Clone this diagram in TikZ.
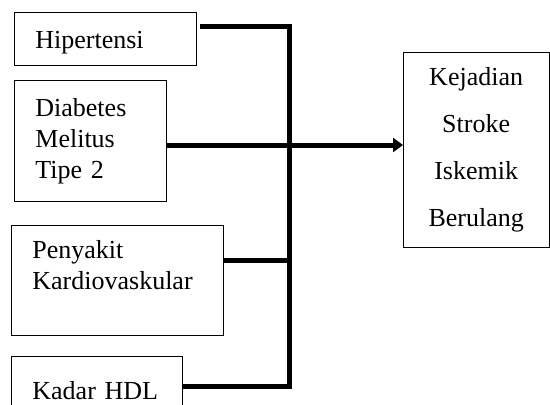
\documentclass[tikz,border=0pt]{standalone}
\usepackage{fontspec}
\setmainfont{Liberation Serif}
\usetikzlibrary{arrows.meta}
\begin{document}
\begin{tikzpicture}[x=1pt,y=-1pt,
  factor/.style={draw=black, line width=0.8pt, anchor=north west, align=left,
    inner xsep=21pt, inner ysep=0pt, font=\fontsize{26}{31}\selectfont},
  outcome/.style={draw=black, line width=0.8pt, anchor=north west, align=center,
    inner sep=0pt, font=\fontsize{26}{47}\selectfont},
  conn/.style={line width=5pt, line join=miter, line cap=butt}]
\useasboundingbox (0,0) rectangle (550,405);
\clip (0,0) rectangle (550,405);
\node[factor, text width=140pt, minimum height=53pt, text height=24pt, text depth=5pt] (hip) at (14,12) {Hipertensi};
\node[factor, text width=110pt, minimum height=121pt] (dm) at (14,80) {Diabetes\\Melitus\\Tipe 2};
\node[factor, text width=170pt, minimum height=110pt] (cvd) at (11,225) {Penyakit\\Kardiovaskular\\\mbox{}};
\node[factor, text width=129pt, minimum height=68pt] (hdl) at (11,356) {Kadar HDL};
\node[outcome, minimum width=145.5pt, minimum height=195pt] (out) at (403,52) {Kejadian\\Stroke\\Iskemik\\Berulang};
\coordinate (hs) at (200,26);
\coordinate (bt) at (289,26);
\coordinate (bb) at (289,386);
\coordinate (jd) at (289,145);
\coordinate (jc) at (289,260);
\draw[conn] (hs) -- (bt) -- (bb) -- (hdl.east |- bb);
\draw[conn] (dm.east |- jd) -- (jd);
\draw[conn] (cvd.east |- jc) -- (jc);
\draw[conn, -{Triangle[length=10pt,width=14pt]}] (jd) -- (out.west |- jd);
\end{tikzpicture}
\end{document}
